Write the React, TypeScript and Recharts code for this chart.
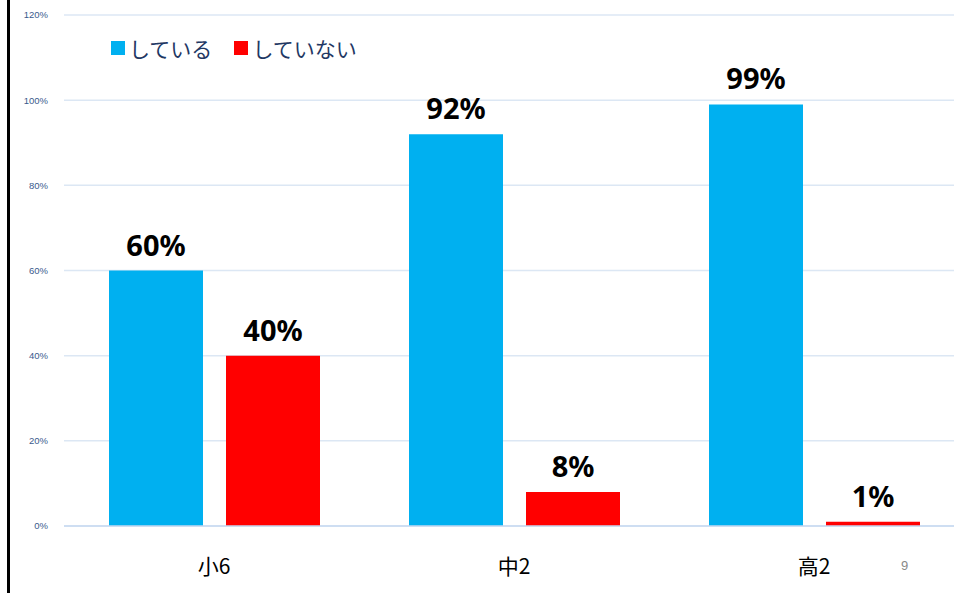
import { Bar, BarChart, CartesianGrid, LabelList, XAxis, YAxis } from 'recharts';

const categories = ['小6', '中2', '高2'];
const doing = [60, 92, 99];
const notDoing = [40, 8, 1];
const yTicks = [0, 20, 40, 60, 80, 100, 120];

const BLUE = '#00B0F0';
const RED = '#FF0000';
const JP = '"Noto Sans CJK JP", "Noto Sans", sans-serif';

const data = categories.map((name, i) => ({ name, doing: doing[i], notDoing: notDoing[i] }));

const legendItems = [
  { label: 'している', color: BLUE },
  { label: 'していない', color: RED },
];

function LegendBox() {
  return (
    <div
      style={{
        position: 'absolute',
        left: 111,
        top: 33,
        display: 'flex',
        alignItems: 'center',
        fontFamily: JP,
        fontSize: 21,
        color: '#1F3864',
      }}
    >
      {legendItems.map((it) => (
        <div key={it.label} style={{ display: 'flex', alignItems: 'center', marginRight: 22 }}>
          <span style={{ width: 14, height: 14, background: it.color, marginRight: 4, display: 'inline-block' }} />
          <span>{it.label}</span>
        </div>
      ))}
    </div>
  );
}

function CatTick({ x, y, payload }: any) {
  return (
    <text x={x} y={y + 40} textAnchor="middle" fontFamily={JP} fontSize={21} fill="#000">
      {payload.value}
    </text>
  );
}

const labelStyle = { fill: '#000', fontSize: 29, fontWeight: 700, fontFamily: '"Noto Sans", sans-serif' };

export default function App() {
  return (
    <div style={{ position: 'absolute', left: 0, top: 0, width: 954, height: 593, overflow: 'hidden', background: '#fff' }}>
      <div style={{ position: 'absolute', left: 7, top: 0, width: 3, height: 593, background: '#000' }} />
      <BarChart
        width={964}
        height={593}
        data={data}
        barCategoryGap={45}
        barGap={23}
        margin={{ top: 15, right: 0, left: 0, bottom: 0 }}
      >
        <CartesianGrid vertical={false} stroke="#DCE7F4" strokeWidth={1.5} />
        <XAxis
          dataKey="name"
          height={67}
          tickLine={false}
          axisLine={{ stroke: '#C6D9F0', strokeWidth: 1.5 }}
          tick={<CatTick />}
        />
        <YAxis
          width={64}
          domain={[0, 120]}
          ticks={yTicks}
          tickFormatter={(v) => `${v}%`}
          tickLine={false}
          axisLine={false}
          tickMargin={10}
          tick={{ fill: '#3A5A8C', fontSize: 9.5, fontFamily: '"Liberation Sans", sans-serif' }}
        />
        <Bar dataKey="doing" fill={BLUE} isAnimationActive={false}>
          <LabelList dataKey="doing" position="top" offset={15} formatter={(v: any) => `${v}%`} style={labelStyle} />
        </Bar>
        <Bar dataKey="notDoing" fill={RED} isAnimationActive={false}>
          <LabelList dataKey="notDoing" position="top" offset={15} formatter={(v: any) => `${v}%`} style={labelStyle} />
        </Bar>
      </BarChart>
      <LegendBox />
      <div style={{ position: 'absolute', left: 901, top: 558, fontSize: 13, color: '#888', fontFamily: '"Liberation Sans", sans-serif' }}>9</div>
    </div>
  );
}
